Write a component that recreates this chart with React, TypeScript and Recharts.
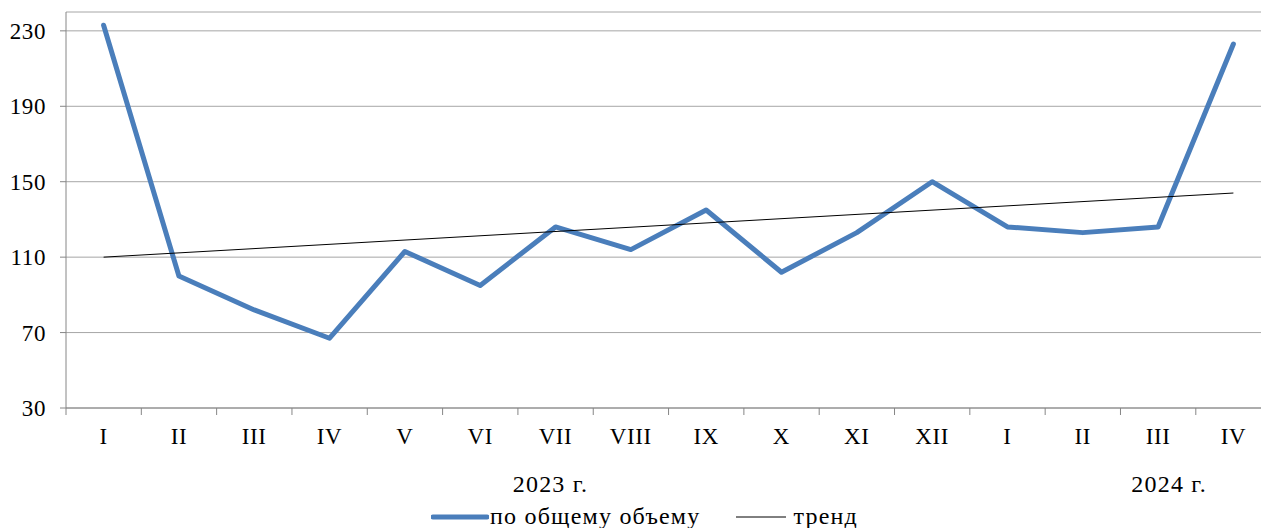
import React from 'react';
import {
  LineChart,
  Line,
  XAxis,
  YAxis,
  CartesianGrid,
  Legend
} from 'recharts';

const periods = ['I', 'II', 'III', 'IV', 'V', 'VI', 'VII', 'VIII', 'IX', 'X', 'XI', 'XII', 'I', 'II', 'III', 'IV'];
const yearLabels = ['', '', '', '', '', '', '2023 г.', '', '', '', '', '', '', '', '2024 г.', ''];
const totalVolume = [233, 100, 82, 67, 113, 95, 126, 114, 135, 102, 123, 150, 126, 123, 126, 223];
const trendValues = [110, null, null, null, null, null, null, null, null, null, null, null, null, null, null, 144];
const yTicks = [30, 70, 110, 150, 190, 230];

const data = periods.map((p, i) => ({
  key: `${p}-${i}`,
  period: p,
  year: yearLabels[i],
  volume: totalVolume[i],
  trend: trendValues[i]
}));

const FONT = '"Liberation Serif", "Times New Roman", serif';
const AXIS = '#868686';
const HALF_BAND = 37.6;

const PeriodTick = (props: any) => {
  const { x, y, payload, index } = props;
  return (
    <g>
      <line x1={x - HALF_BAND} y1={y - 8} x2={x - HALF_BAND} y2={y - 1} stroke={AXIS} />
      {index === periods.length - 1 && (
        <line x1={x + HALF_BAND} y1={y - 8} x2={x + HALF_BAND} y2={y - 1} stroke={AXIS} />
      )}
      <text x={x} y={y + 28} textAnchor="middle" fontSize={23} letterSpacing={0.6} fontFamily={FONT} fill="#000">
        {data[payload.index]?.period ?? ''}
      </text>
    </g>
  );
};

const YearTick = (props: any) => {
  const { x, y, payload } = props;
  const label = data[payload.index]?.year;
  if (!label) return null;
  const shift = label.startsWith('2024') ? 11 : -5;
  return (
    <text x={x + shift} y={y + 26} textAnchor="middle" fontSize={24} letterSpacing={1.2} fontFamily={FONT} fill="#000">
      {label}
    </text>
  );
};

const LegendContent = () => (
  <div style={{ display: 'flex', alignItems: 'center', justifyContent: 'center', fontFamily: FONT, fontSize: 24, letterSpacing: 1.2, color: '#000', paddingLeft: 18, paddingTop: 5 }}>
    <svg width={58} height={10}>
      <line x1={2} y1={5} x2={56} y2={5} stroke="#4A7EBB" strokeWidth={5} strokeLinecap="round" />
    </svg>
    <span style={{ marginLeft: 1 }}>по общему объему</span>
    <svg width={52} height={10} style={{ marginLeft: 36 }}>
      <line x1={0} y1={5} x2={50} y2={5} stroke="#000" strokeWidth={1} />
    </svg>
    <span style={{ marginLeft: 5 }}>тренд</span>
  </div>
);

export default function App() {
  return (
    <div style={{ position: 'absolute', left: 0, top: 0, width: 1261, height: 528, overflow: 'hidden', background: '#fff' }}>
      <LineChart
        width={1271}
        height={528}
        data={data}
        margin={{ top: 12, right: 0, left: 0, bottom: 0 }}
      >
        <CartesianGrid vertical={false} stroke="#a6a6a6" strokeWidth={1} />
        <XAxis
          dataKey="key"
          xAxisId="period"
          height={50}
          interval={0}
          padding={{ left: HALF_BAND, right: HALF_BAND }}
          stroke={AXIS}
          tickLine={false}
          tick={<PeriodTick />}
        />
        <XAxis
          dataKey="key"
          xAxisId="year"
          height={40}
          interval={0}
          padding={{ left: HALF_BAND, right: HALF_BAND }}
          axisLine={false}
          tickLine={false}
          tick={<YearTick />}
        />
        <YAxis
          domain={[30, 240]}
          ticks={yTicks}
          width={66}
          stroke={AXIS}
          tickSize={6}
          tickMargin={14}
          tick={{ fontSize: 23, fontFamily: FONT, fill: '#000', letterSpacing: 0.6 }}
          interval={0}
        />
        <Legend verticalAlign="bottom" height={30} content={<LegendContent />} />
        <Line
          xAxisId="period"
          type="linear"
          dataKey="volume"
          stroke="#4A7EBB"
          strokeWidth={5}
          dot={false}
          strokeLinecap="round"
          strokeLinejoin="round"
          isAnimationActive={false}
        />
        <Line
          xAxisId="period"
          type="linear"
          dataKey="trend"
          stroke="#000"
          strokeWidth={1}
          dot={false}
          connectNulls
          isAnimationActive={false}
        />
      </LineChart>
    </div>
  );
}
